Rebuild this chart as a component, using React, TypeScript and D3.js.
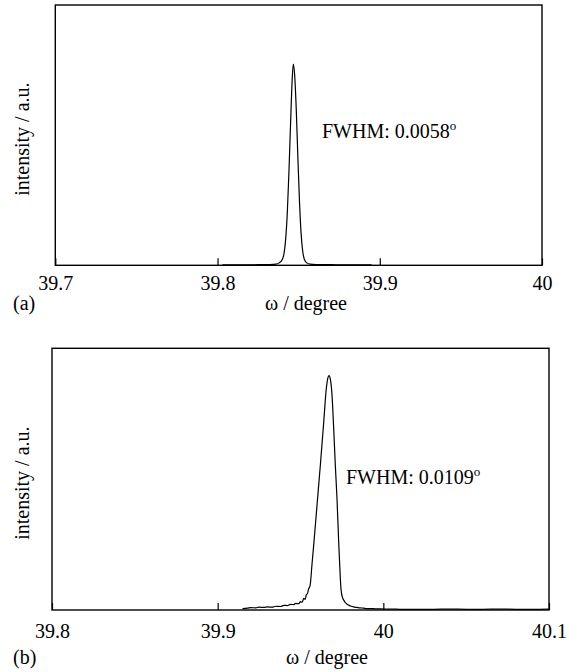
import { useRef, useEffect } from "react";
import * as d3 from "d3";

// panel (a): omega scan, narrow peak
const omegaA = [
  39.803, 39.815, 39.825, 39.832, 39.836, 39.838, 39.84, 39.841, 39.842, 39.843,
  39.844, 39.845, 39.846, 39.8467, 39.8475, 39.8485, 39.8495, 39.8505, 39.8515,
  39.8525, 39.8535, 39.855, 39.857, 39.861, 39.87, 39.88, 39.895,
];
const intensityA = [
  0.002, 0.002, 0.003, 0.004, 0.006, 0.012, 0.03, 0.06, 0.13, 0.26, 0.46, 0.7,
  0.92, 1.0, 0.95, 0.78, 0.54, 0.32, 0.16, 0.07, 0.03, 0.012, 0.006, 0.004,
  0.003, 0.002, 0.002,
];

// panel (b): omega scan, broader peak with low-angle tail
const omegaB = [
  39.915, 39.918, 39.92, 39.923, 39.925, 39.928, 39.93, 39.933, 39.935, 39.938,
  39.94, 39.942, 39.944, 39.946, 39.947, 39.949, 39.95, 39.951, 39.952, 39.9528,
  39.9535, 39.9542, 39.9548, 39.9558, 39.957, 39.958, 39.96, 39.962, 39.964,
  39.9655, 39.9665, 39.9672, 39.968, 39.969, 39.97, 39.971, 39.972, 39.973,
  39.974, 39.9745, 39.9755, 39.9763, 39.977, 39.978, 39.979, 39.9805, 39.982,
  39.984, 39.986, 39.988, 39.99, 39.993, 39.995, 39.998, 40.0, 40.005, 40.01,
  40.02, 40.03, 40.04, 40.05, 40.06, 40.07, 40.08, 40.09, 40.1,
];
const intensityB = [
  0.006, 0.008, 0.01, 0.009, 0.012, 0.011, 0.013, 0.012, 0.016, 0.015, 0.02,
  0.019, 0.024, 0.023, 0.028, 0.027, 0.036, 0.033, 0.05, 0.045, 0.065, 0.07,
  0.088, 0.105, 0.2, 0.28, 0.45, 0.62, 0.8, 0.94, 0.99, 1.0, 0.985, 0.92, 0.78,
  0.62, 0.48, 0.3, 0.14, 0.085, 0.05, 0.04, 0.032, 0.026, 0.021, 0.016, 0.013,
  0.011, 0.009, 0.008, 0.006, 0.006, 0.005, 0.005, 0.004, 0.004, 0.003, 0.003,
  0.003, 0.004, 0.003, 0.003, 0.004, 0.003, 0.003, 0.004,
];

const ticksA = [39.7, 39.8, 39.9, 40];
const ticksB = [39.8, 39.9, 40, 40.1];

const FONT = "Liberation Serif, Times New Roman, serif";

const drawPanel = (svg, p) => {
  const g = svg.append("g");
  const x = d3.scaleLinear().domain(p.xDomain).range([p.left, p.right]);
  const y = d3.scaleLinear().domain([0, p.yMax]).range([p.bottom, p.top]);

  const axis = g
    .append("g")
    .attr("transform", `translate(0,${p.bottom})`)
    .call(
      d3
        .axisBottom(x)
        .tickValues(p.ticks)
        .tickFormat((d) => String(d))
        .tickSizeInner(-7)
        .tickSizeOuter(0)
        .tickPadding(p.pad)
    )
    .attr("font-family", FONT)
    .attr("font-size", 20);
  axis.select(".domain").remove();
  axis.selectAll(".tick line").attr("stroke", "#000").attr("stroke-width", 1.2);
  axis.selectAll(".tick text").attr("fill", "#000");

  g.append("rect")
    .attr("x", p.left)
    .attr("y", p.top)
    .attr("width", p.right - p.left)
    .attr("height", p.bottom - p.top)
    .attr("fill", "none")
    .attr("stroke", "#000")
    .attr("stroke-width", 1.4);

  const pts = p.xs.map((v, i) => [v, p.ys[i]]);
  g.append("path")
    .datum(pts)
    .attr("fill", "none")
    .attr("stroke", "#000")
    .attr("stroke-width", 1.2)
    .attr(
      "d",
      d3
        .line()
        .x((d) => x(d[0]))
        .y((d) => y(d[1]))
        .curve(d3.curveMonotoneX)
    );

  g.append("text")
    .attr("transform", `translate(28.5,${(p.top + p.bottom) / 2 + 4}) rotate(-90)`)
    .attr("text-anchor", "middle")
    .attr("font-family", FONT)
    .attr("font-size", 20)
    .text("intensity / a.u.");

  const fw = g
    .append("text")
    .attr("x", p.fwX)
    .attr("y", p.fwY)
    .attr("font-family", FONT)
    .attr("font-size", 20)
    .text(p.fwhm);
  fw.append("tspan").attr("font-size", 13).attr("dy", -8).text("o");

  g.append("text")
    .attr("x", 13)
    .attr("y", p.labelY)
    .attr("font-family", FONT)
    .attr("font-size", 20)
    .text(p.tag);

  g.append("text")
    .attr("x", p.labelX)
    .attr("y", p.labelY)
    .attr("text-anchor", "middle")
    .attr("font-family", FONT)
    .attr("font-size", 20)
    .text("ω / degree");
};

const App = () => {
  const svgRef = useRef(null);

  useEffect(() => {
    const svg = d3.select(svgRef.current);
    svg.selectAll("*").remove();

    drawPanel(svg, {
      xDomain: [39.7, 40],
      ticks: ticksA,
      xs: omegaA,
      ys: intensityA,
      yMax: 1.293,
      left: 55.3,
      right: 542,
      top: 5,
      bottom: 265.3,
      pad: 10.5,
      fwhm: "FWHM: 0.0058",
      fwX: 322,
      fwY: 138,
      tag: "(a)",
      labelX: 306,
      labelY: 310,
    });

    drawPanel(svg, {
      xDomain: [39.8, 40.1],
      ticks: ticksB,
      xs: omegaB,
      ys: intensityB,
      yMax: 1.117,
      left: 52,
      right: 549,
      top: 348.3,
      bottom: 610,
      pad: 13.8,
      fwhm: "FWHM: 0.0109",
      fwX: 346,
      fwY: 484,
      tag: "(b)",
      labelX: 327,
      labelY: 664,
    });
  }, []);

  return (
    <svg
      ref={svgRef}
      width={576}
      height={672}
      style={{ position: "absolute", left: 0, top: 0, background: "#fff" }}
    ></svg>
  );
};

export default App;
